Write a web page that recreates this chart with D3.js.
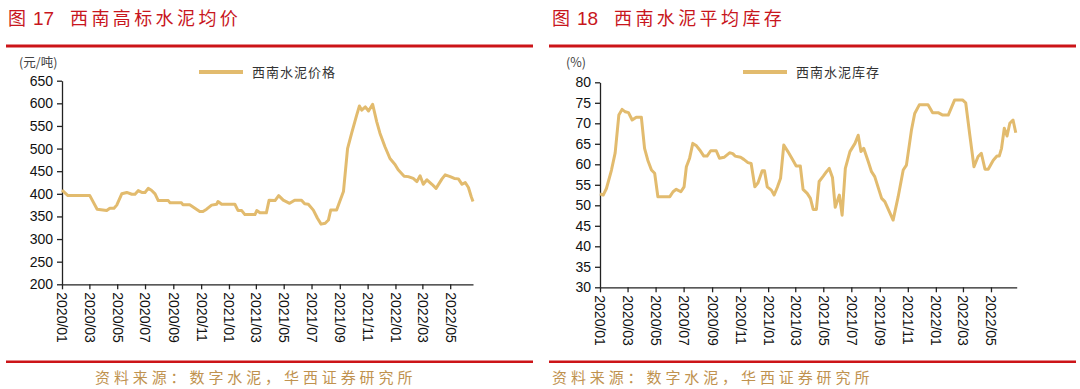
<!DOCTYPE html>
<html>
<head>
<meta charset="utf-8">
<script src="https://cdn.jsdelivr.net/npm/d3@7/dist/d3.min.js"></script>
<style>
  body { margin: 0; background: #fff; }
  svg { display: block; }
  .title { font-family: "Noto Sans CJK SC", sans-serif; font-size: 18px; fill: #c8161d; }
  .source { font-family: "Noto Sans CJK SC", sans-serif; font-size: 15px; fill: #c0924f; letter-spacing: 3.9px; }
  .unit { font-family: "Noto Sans CJK SC", sans-serif; font-size: 12.5px; fill: #444; }
  .legend { font-family: "Noto Sans CJK SC", sans-serif; font-size: 13px; fill: #333; letter-spacing: 1px; }
  .axis text { font-family: "Liberation Sans", Arial, sans-serif; font-size: 14px; fill: #111; }
  .axis path, .axis line { stroke: #222; stroke-width: 1.3; }
</style>
</head>
<body>
<svg id="chart" width="1080" height="389"></svg>
<script>
// 图17 西南高标水泥均价 (元/吨)
const priceDates = [
  "2020-01-01","2020-01-14","2020-03-02","2020-03-18","2020-04-08","2020-04-15","2020-04-24","2020-04-30",
  "2020-05-11","2020-05-22","2020-06-02","2020-06-09","2020-06-16","2020-06-24","2020-07-01","2020-07-08",
  "2020-07-15","2020-07-23","2020-07-30","2020-08-21","2020-08-25","2020-09-19","2020-09-22","2020-10-07",
  "2020-10-29","2020-11-05","2020-11-13","2020-11-24","2020-12-05","2020-12-08","2020-12-16","2021-01-14",
  "2021-01-21","2021-01-29","2021-02-05","2021-02-27","2021-03-03","2021-03-10","2021-03-24","2021-03-30",
  "2021-04-12","2021-04-20","2021-04-30","2021-05-14","2021-05-25","2021-06-09","2021-06-16","2021-06-24",
  "2021-07-05","2021-07-14","2021-07-22","2021-07-31","2021-08-07","2021-08-12","2021-08-25","2021-09-09",
  "2021-09-18","2021-09-27","2021-10-08","2021-10-14","2021-10-19","2021-10-27","2021-11-03","2021-11-12",
  "2021-11-21","2021-11-28","2021-12-09","2021-12-20","2021-12-31","2022-01-07","2022-01-20","2022-01-29",
  "2022-02-09","2022-02-17","2022-02-24","2022-03-03","2022-03-11","2022-03-22","2022-03-31","2022-04-13",
  "2022-04-20","2022-05-01","2022-05-10","2022-05-19","2022-05-27","2022-06-03","2022-06-10","2022-06-16",
  "2022-06-20"
];
const priceValues = [
  408, 396, 396, 366, 363, 368, 368, 375,
  400, 403, 399, 399, 407, 403, 403, 412,
  408, 400, 385, 385, 380, 380, 376, 376,
  361, 361, 366, 375, 377, 383, 377, 377,
  363, 363, 354, 354, 363, 358, 358, 386,
  385, 396, 386, 379, 386, 386, 378, 377,
  364, 346, 333, 335, 342, 364, 364, 405,
  500, 534, 574, 594, 585, 592, 583, 598,
  559, 534, 504, 478, 465, 453, 439, 438,
  434, 427, 440, 421, 431, 421, 412, 433,
  442, 438, 434, 433, 421, 425, 414, 394,
  383
];
const priceTicks = [200, 250, 300, 350, 400, 450, 500, 550, 600, 650];

// 图18 西南水泥平均库存 (%)
const stockDates = [
  "2020-01-01","2020-01-08","2020-01-15","2020-01-26","2020-02-03","2020-02-11","2020-02-18","2020-02-25",
  "2020-03-03","2020-03-11","2020-03-20","2020-03-31","2020-04-07","2020-04-14","2020-04-22","2020-04-29",
  "2020-05-06","2020-06-01","2020-06-08","2020-06-15","2020-06-25","2020-07-02","2020-07-07","2020-07-14",
  "2020-07-21","2020-07-29","2020-08-05","2020-08-14","2020-08-21","2020-08-29","2020-09-10","2020-09-17",
  "2020-09-27","2020-10-09","2020-10-16","2020-10-21","2020-11-02","2020-11-09","2020-11-18","2020-11-25",
  "2020-12-03","2020-12-10","2020-12-19","2020-12-24","2020-12-30","2021-01-08","2021-01-14","2021-01-21",
  "2021-01-28","2021-02-04","2021-02-13","2021-02-24","2021-03-03","2021-03-12","2021-03-18","2021-03-27",
  "2021-04-03","2021-04-09","2021-04-16","2021-04-22","2021-05-01","2021-05-08","2021-05-14","2021-05-21",
  "2021-05-27","2021-06-05","2021-06-11","2021-06-18","2021-06-28","2021-07-09","2021-07-16","2021-07-22",
  "2021-07-28","2021-08-07","2021-08-14","2021-08-21","2021-09-05","2021-09-12","2021-09-30","2021-10-11",
  "2021-10-22","2021-10-29","2021-11-09","2021-11-16","2021-11-26","2021-12-15","2021-12-25","2022-01-06",
  "2022-01-16","2022-01-28","2022-02-11","2022-02-28","2022-03-07","2022-03-16","2022-03-25","2022-04-03",
  "2022-04-10","2022-04-18","2022-04-25","2022-05-06","2022-05-14","2022-05-19","2022-05-24","2022-05-30",
  "2022-06-05","2022-06-11","2022-06-18","2022-06-24"
];
const stockValues = [
  52.8, 52.5, 54.1, 58.6, 62.8, 72.0, 73.4, 72.8,
  72.6, 70.8, 71.5, 71.5, 63.9, 61.0, 58.6, 57.8,
  52.1, 52.1, 53.3, 53.9, 53.3, 54.5, 59.4, 61.5,
  65.1, 64.5, 63.5, 62.0, 62.0, 63.3, 63.3, 61.5,
  61.7, 62.8, 62.6, 62.0, 61.7, 61.2, 60.4, 60.2,
  54.5, 55.5, 58.4, 58.4, 54.5, 53.7, 52.5, 54.4,
  56.6, 64.7, 63.1, 61.0, 59.6, 59.6, 53.9, 52.9,
  51.7, 49.0, 49.0, 55.8, 57.1, 58.2, 59.0, 56.8,
  49.5, 52.5, 47.6, 59.0, 63.1, 65.1, 67.1, 63.1,
  63.9, 60.6, 58.2, 57.0, 51.7, 50.9, 46.4, 52.1,
  58.6, 59.8, 68.4, 72.4, 74.5, 74.5, 72.6, 72.6,
  72.0, 72.0, 75.7, 75.7, 75.0, 67.1, 59.4, 61.9,
  62.7, 58.8, 58.8, 61.0, 62.0, 62.0, 63.9, 68.8,
  66.9, 70.0, 70.8, 67.7
];
const stockTicks = [30, 35, 40, 45, 50, 55, 60, 65, 70, 75, 80];

const lineColor = "#e2bb6e", red = "#cc1418";
const parseDate = d3.timeParse("%Y-%m-%d"),
    formatMonth = d3.timeFormat("%Y/%m");

const svg = d3.select("#chart");

function drawPanel(opt) {
    const g = svg.append("g");

    // header and footer rules
    g.append("rect").attr("x", opt.ruleX0).attr("y", 44.5).attr("width", opt.ruleX1 - opt.ruleX0).attr("height", 3).attr("fill", red);
    g.append("rect").attr("x", opt.ruleX0).attr("y", 360.5).attr("width", opt.ruleX1 - opt.ruleX0).attr("height", 2.5).attr("fill", red);

    const title = g.append("text").attr("class", "title").attr("y", 25);
    title.append("tspan").attr("x", opt.titleX).text("图");
    title.append("tspan").attr("x", opt.titleX + 25).style("font-family", "'Liberation Sans', Arial, sans-serif").style("font-size", "19px").text(opt.num);
    title.append("tspan").attr("x", opt.titleX + 62).style("letter-spacing", "3.4px").text(opt.title);

    g.append("text").attr("class", "source").attr("x", opt.sourceX).attr("y", 383).text("资料来源：数字水泥，华西证券研究所");

    // scales
    const data = opt.dates.map((d, i) => ({ date: parseDate(d), value: opt.values[i] }));
    const xscale = d3.scaleTime()
        .domain([parseDate(opt.start), parseDate(opt.end)])
        .range([opt.left, opt.right]);
    const yscale = d3.scaleLinear()
        .domain(d3.extent(opt.yTicks))
        .range([opt.bottom, opt.top]);

    // axes
    g.append("g")
        .attr("class", "axis y_axis")
        .attr("transform", `translate(${opt.left}, 0)`)
        .call(d3.axisLeft(yscale).tickValues(opt.yTicks).tickSize(5).tickSizeOuter(0).tickPadding(4));

    const xg = g.append("g")
        .attr("class", "axis x_axis")
        .attr("transform", `translate(0, ${opt.bottom})`)
        .call(d3.axisBottom(xscale).ticks(d3.timeMonth.every(2)).tickFormat(formatMonth).tickSize(5).tickSizeOuter(0));
    xg.selectAll("text")
        .attr("transform", "rotate(90)")
        .attr("text-anchor", "start")
        .attr("x", 8)
        .attr("y", 0)
        .attr("dy", "0.36em");

    // unit label
    g.append("text").attr("class", "unit").attr("x", opt.unitX).attr("y", 67).text(opt.unit);

    // legend
    g.append("line")
        .attr("x1", opt.legendX).attr("x2", opt.legendX + 44)
        .attr("y1", 72).attr("y2", 72)
        .attr("stroke", lineColor).attr("stroke-width", 4);
    g.append("text").attr("class", "legend")
        .attr("x", opt.legendX + 53).attr("y", 77).text(opt.legend);

    // line
    const lineFunc = d3.line()
        .x(d => xscale(d.date))
        .y(d => yscale(d.value));
    g.append("path")
        .datum(data)
        .attr("fill", "none")
        .attr("stroke", lineColor)
        .attr("stroke-width", 3)
        .attr("stroke-linejoin", "round")
        .attr("d", lineFunc);
}

drawPanel({
    num: "17", title: "西南高标水泥均价", titleX: 8, sourceX: 95,
    ruleX0: 6, ruleX1: 533,
    dates: priceDates, values: priceValues, yTicks: priceTicks,
    start: "2020-01-01", end: "2022-06-20",
    left: 62, right: 473, top: 80.7, bottom: 284.3,
    unit: "(元/吨)", unitX: 19,
    legend: "西南水泥价格", legendX: 199
});

drawPanel({
    num: "18", title: "西南水泥平均库存", titleX: 552, sourceX: 552,
    ruleX0: 549, ruleX1: 1076,
    dates: stockDates, values: stockValues, yTicks: stockTicks,
    start: "2020-01-01", end: "2022-06-26",
    left: 600, right: 1016.7, top: 82.3, bottom: 287.3,
    unit: "(%)", unitX: 566,
    legend: "西南水泥库存", legendX: 743
});
</script>
</body>
</html>
